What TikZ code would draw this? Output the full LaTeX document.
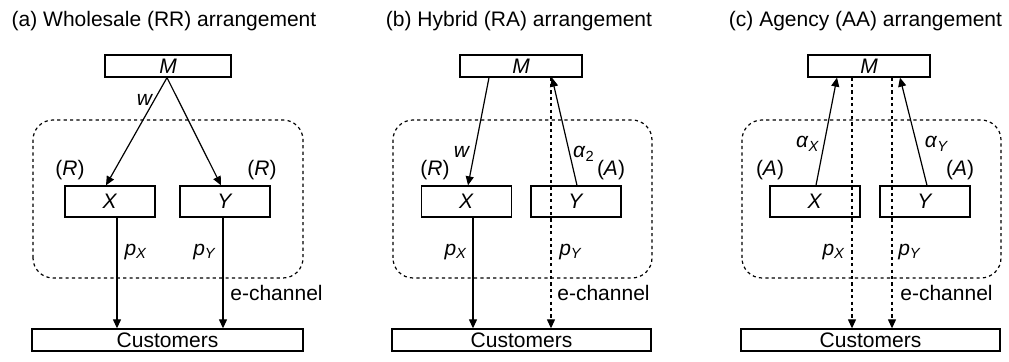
\documentclass[tikz,border=0pt]{standalone}
\usepackage{fontspec}
\setmainfont{Liberation Sans}
\usetikzlibrary{arrows.meta}

\begin{document}
\begin{tikzpicture}[x=0.5pt, y=0.5pt, font=\fontsize{10.5}{12.6}\selectfont,
    box/.style={draw, line width=0.65pt, inner sep=0pt, minimum height=11pt},
    firm/.style={box, minimum width=45pt, minimum height=15.5pt},
    flow/.style={line width=0.6pt, -{Triangle[length=4.5pt, width=4pt]}},
    eflow/.style={flow, dash pattern=on 1.6pt off 1.6pt},
    group/.style={draw, line width=0.6pt, dash pattern=on 1.6pt off 1.6pt, rounded corners=10pt},
    lbl/.style={inner sep=0pt}]
          \useasboundingbox (0,0) rectangle (1009,362);

          % (a) Wholesale arrangement
          \node[anchor=base] (ta) at (164,335) {(a) Wholesale (RR) arrangement};
          \draw[group] (33,84) rectangle (303,242);
          \node[box, minimum width=63pt] (aM) at (168,296) {\textit{M}};
          \node[firm] (aX) at (110,160.5) {\textit{X}};
          \node[firm] (aY) at (225,160.5) {\textit{Y}};
          \node[box, minimum width=135.5pt] (aC) at (167.5,22) {Customers};
          \draw[flow] ([xshift=-0.5pt]aM.south) -- ([xshift=-2pt]aX.north);
          \draw[flow] ([xshift=-0.5pt]aM.south) -- ([xshift=-2pt]aY.north);
          \draw[flow] ([xshift=3.5pt]aX.south) -- ([xshift=3.5pt]aX.south |- aC.north);
          \draw[flow] ([xshift=-1pt]aY.south) -- ([xshift=-1pt]aY.south |- aC.north);
          \node[lbl] (aw) at (145,262) {\textit{w}};
          \node[lbl] (aRX) at (70,192) {(\textit{R})};
          \node[lbl] (aRY) at (262,192) {(\textit{R})};
          \node[lbl] (apX) at (136,110) {\textit{p}\textsubscript{\textit{X}}};
          \node[lbl] (apY) at (205,110) {\textit{p}\textsubscript{\textit{Y}}};
          \node[lbl, anchor=west] (ae) at (230,69) {e-channel};

          % (b) Hybrid arrangement
          \node[anchor=base] (tb) at (519,335) {(b) Hybrid (RA) arrangement};
          \draw[group] (393,84) rectangle (652,242);
          \node[box, minimum width=61pt] (bM) at (521,296) {\textit{M}};
          \node[firm] (bX) at (466.5,160.5) {\textit{X}};
          \node[firm] (bY) at (576,160.5) {\textit{Y}};
          \node[box, minimum width=129.5pt] (bC) at (521.5,22) {Customers};
          \draw[flow] ([xshift=-16pt]bM.south) -- ([xshift=0.75pt]bX.north);
          \draw[flow] ([xshift=0.5pt]bY.north) -- ([xshift=15.5pt]bM.south);
          \draw[eflow] ([xshift=15pt]bM.south) -- ([xshift=15pt]bM.south |- bC.north);
          \draw[flow] ([xshift=3.25pt]bX.south) -- ([xshift=3.25pt]bX.south |- bC.north);
          \node[lbl] (bw) at (462,210) {\textit{w}};
          \node[lbl] (ba) at (584,208) {\textit{α}\textsubscript{2}};
          \node[lbl] (bRX) at (435,192) {(\textit{R})};
          \node[lbl] (bAY) at (611,192) {(\textit{A})};
          \node[lbl] (bpX) at (456,110) {\textit{p}\textsubscript{\textit{X}}};
          \node[lbl] (bpY) at (571,110) {\textit{p}\textsubscript{\textit{Y}}};
          \node[lbl, anchor=west] (be) at (557,69) {e-channel};

          % (c) Agency arrangement
          \node[anchor=base] (tc) at (865.5,335) {(c) Agency (AA) arrangement};
          \draw[group] (742,84) rectangle (1001,242);
          \node[box, minimum width=61pt] (cM) at (869,296) {\textit{M}};
          \node[firm] (cX) at (815,160.5) {\textit{X}};
          \node[firm] (cY) at (925,160.5) {\textit{Y}};
          \node[box, minimum width=129.5pt] (cC) at (870.5,22) {Customers};
          \draw[flow] ([xshift=0.5pt]cX.north) -- ([xshift=-16pt]cM.south);
          \draw[flow] ([xshift=1pt]cY.north) -- ([xshift=15.5pt]cM.south);
          \draw[eflow] ([xshift=-8.5pt]cM.south) -- ([xshift=-8.5pt]cM.south |- cC.north);
          \draw[eflow] ([xshift=11.5pt]cM.south) -- ([xshift=11.5pt]cM.south |- cC.north);
          \node[lbl] (caX) at (808,218) {\textit{α}\textsubscript{\textit{X}}};
          \node[lbl] (caY) at (937,218) {\textit{α}\textsubscript{\textit{Y}}};
          \node[lbl] (cAX) at (770,192) {(\textit{A})};
          \node[lbl] (cAY) at (960,192) {(\textit{A})};
          \node[lbl] (cpX) at (834,110) {\textit{p}\textsubscript{\textit{X}}};
          \node[lbl] (cpY) at (910,110) {\textit{p}\textsubscript{\textit{Y}}};
          \node[lbl, anchor=west] (ce) at (900,69) {e-channel};

        \end{tikzpicture}
\end{document}
